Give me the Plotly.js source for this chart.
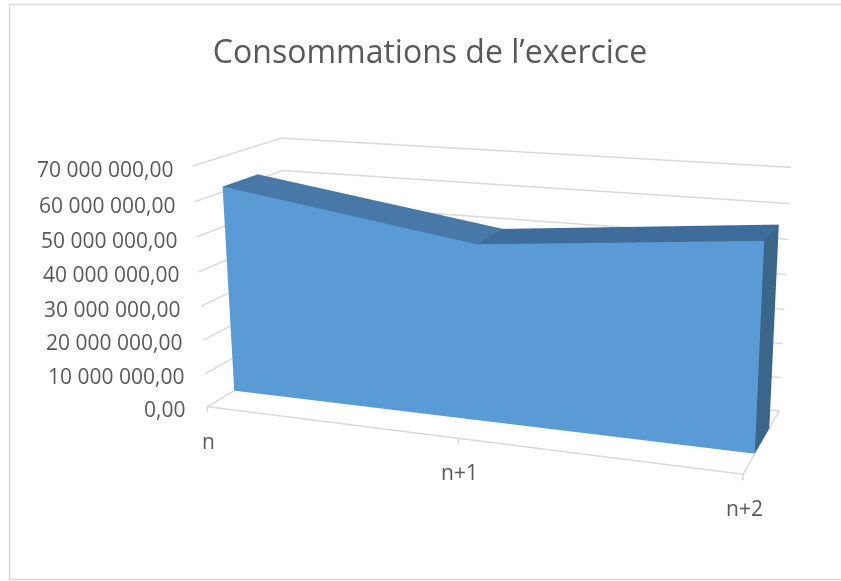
<!DOCTYPE html>
<html>
<head>
<meta charset="utf-8">
<script src="https://cdn.plot.ly/plotly-3.0.1.min.js"></script>
<style>
html,body{margin:0;padding:0;background:#fff;overflow:hidden;width:841px;height:581px}
#chart{position:absolute;left:0;top:-302px;width:1012px;height:1247px}
</style>
</head>
<body>
<div id="chart"></div>
<script>
// Annual consumption, in euros, for each financial year
const categories = ['n', 'n+1', 'n+2'];
const values = [61500000, 50500000, 57300000];
const valueTicks = [0, 10000000, 20000000, 30000000, 40000000, 50000000, 60000000, 70000000];
const tickLabels = ['0,00', '10 000 000,00', '20 000 000,00', '30 000 000,00', '40 000 000,00', '50 000 000,00', '60 000 000,00', '70 000 000,00'];
const chartTitle = 'Consommations de l’exercice';

// The scene is wider and taller than the window so the lens centre sits off to the right;
// the page clips it to 841x581.
const sceneW = 1012, sceneH = 1247, sceneTop = -302;
const paperX = px => px / sceneW;
const paperY = py => 1 - (py - sceneTop) / sceneH;

const xRange = [-0.02, 2.02], yRange = [-0.02, 1.02], zRange = [-4000000, 72000000];
const depthFront = 0.3, depthBack = 0.7;
const idx = categories.map((c, i) => i);
const last = idx.length - 1;

const gridColor = '#d9d9d9', textColor = '#595959', fontFamily = 'Open Sans, sans-serif';

// A flat, unlit polygon
function face(xs, ys, zs, color) {
  const i = [], j = [], k = [];
  for (let t = 1; t < xs.length - 1; t++) { i.push(0); j.push(t); k.push(t + 1); }
  return {type: 'mesh3d', x: xs, y: ys, z: zs, i, j, k, color, flatshading: true, hoverinfo: 'skip',
    lighting: {ambient: 1, diffuse: 0, specular: 0, roughness: 1, fresnel: 0}};
}
function rule(xs, ys, zs) {
  return {type: 'scatter3d', mode: 'lines', x: xs, y: ys, z: zs, hoverinfo: 'skip',
    line: {color: gridColor, width: 3}};
}

const traces = [];
const roofColors = ['#4878a8', '#3f6d9b'];

// Front and roof of the extruded area, one panel per interval, then its right end
for (let a = 0; a < last; a++) {
  const b = a + 1;
  traces.push(face([idx[a], idx[b], idx[b], idx[a]], [depthFront, depthFront, depthFront, depthFront],
    [0, 0, values[b], values[a]], '#5b9bd5'));
  traces.push(face([idx[a], idx[b], idx[b], idx[a]], [depthFront, depthFront, depthBack, depthBack],
    [values[a], values[b], values[b], values[a]], roofColors[a]));
}
traces.push(face([last, last, last, last], [depthFront, depthBack, depthBack, depthFront],
  [0, 0, values[last], values[last]], '#3b6689'));

// Wall gridlines run along the left side and the back
valueTicks.forEach(v => traces.push(rule([0, 0, last], [0, 1, 1], [v, v, v])));
// Floor outline and the category ticks below it
traces.push(rule([0, last, last], [0, 0, 1], [0, 0, 0]));
idx.forEach(i => traces.push(rule([i, i], [0, 0], [0, -1700000])));

// Value labels follow the lean of the left wall
const annotations = [];
valueTicks.forEach((v, i) => annotations.push({
  x: 0, y: 0, z: v, text: tickLabels[i], showarrow: false, xanchor: 'right',
  xshift: -20 + 3 * v / 70000000, yshift: -2 - v / 70000000,
  font: {family: fontFamily, size: 21, color: textColor}
}));
categories.forEach((c, i) => annotations.push({
  x: idx[i], y: 0, z: 0, text: c, showarrow: false, xshift: 1, yshift: -34,
  font: {family: fontFamily, size: 21, color: textColor}
}));

const hiddenAxis = {visible: false, showgrid: false, zeroline: false, showspikes: false};
const layout = {
  width: sceneW, height: sceneH, margin: {l: 0, r: 0, t: 0, b: 0},
  paper_bgcolor: '#fff', showlegend: false,
  title: {text: chartTitle, x: paperX(430), xanchor: 'center', y: paperY(52), yanchor: 'middle',
    font: {family: fontFamily, size: 32, color: textColor}},
  scene: {
    domain: {x: [0, 1], y: [0, 1]},
    aspectmode: 'manual', aspectratio: {x: 2.089, y: 0.697, z: 1},
    xaxis: Object.assign({range: xRange}, hiddenAxis),
    yaxis: Object.assign({range: yRange}, hiddenAxis),
    zaxis: Object.assign({range: zRange}, hiddenAxis),
    camera: {
      eye: {x: 1.903, y: -5.005, z: 1.433},
      center: {x: -0.128, y: 0.511, z: -0.256},
      up: {x: 0.981, y: -2.662, z: 1}
    },
    annotations: annotations
  },
  // The frame runs off the right-hand edge of the window
  shapes: [{type: 'rect', xref: 'paper', yref: 'paper',
    x0: paperX(9.5), x1: paperX(850), y0: paperY(4.5), y1: paperY(579.5),
    line: {color: gridColor, width: 1.5}, fillcolor: 'rgba(0,0,0,0)'}]
};
Plotly.newPlot('chart', traces, layout, {displayModeBar: false});
</script>
</body>
</html>
